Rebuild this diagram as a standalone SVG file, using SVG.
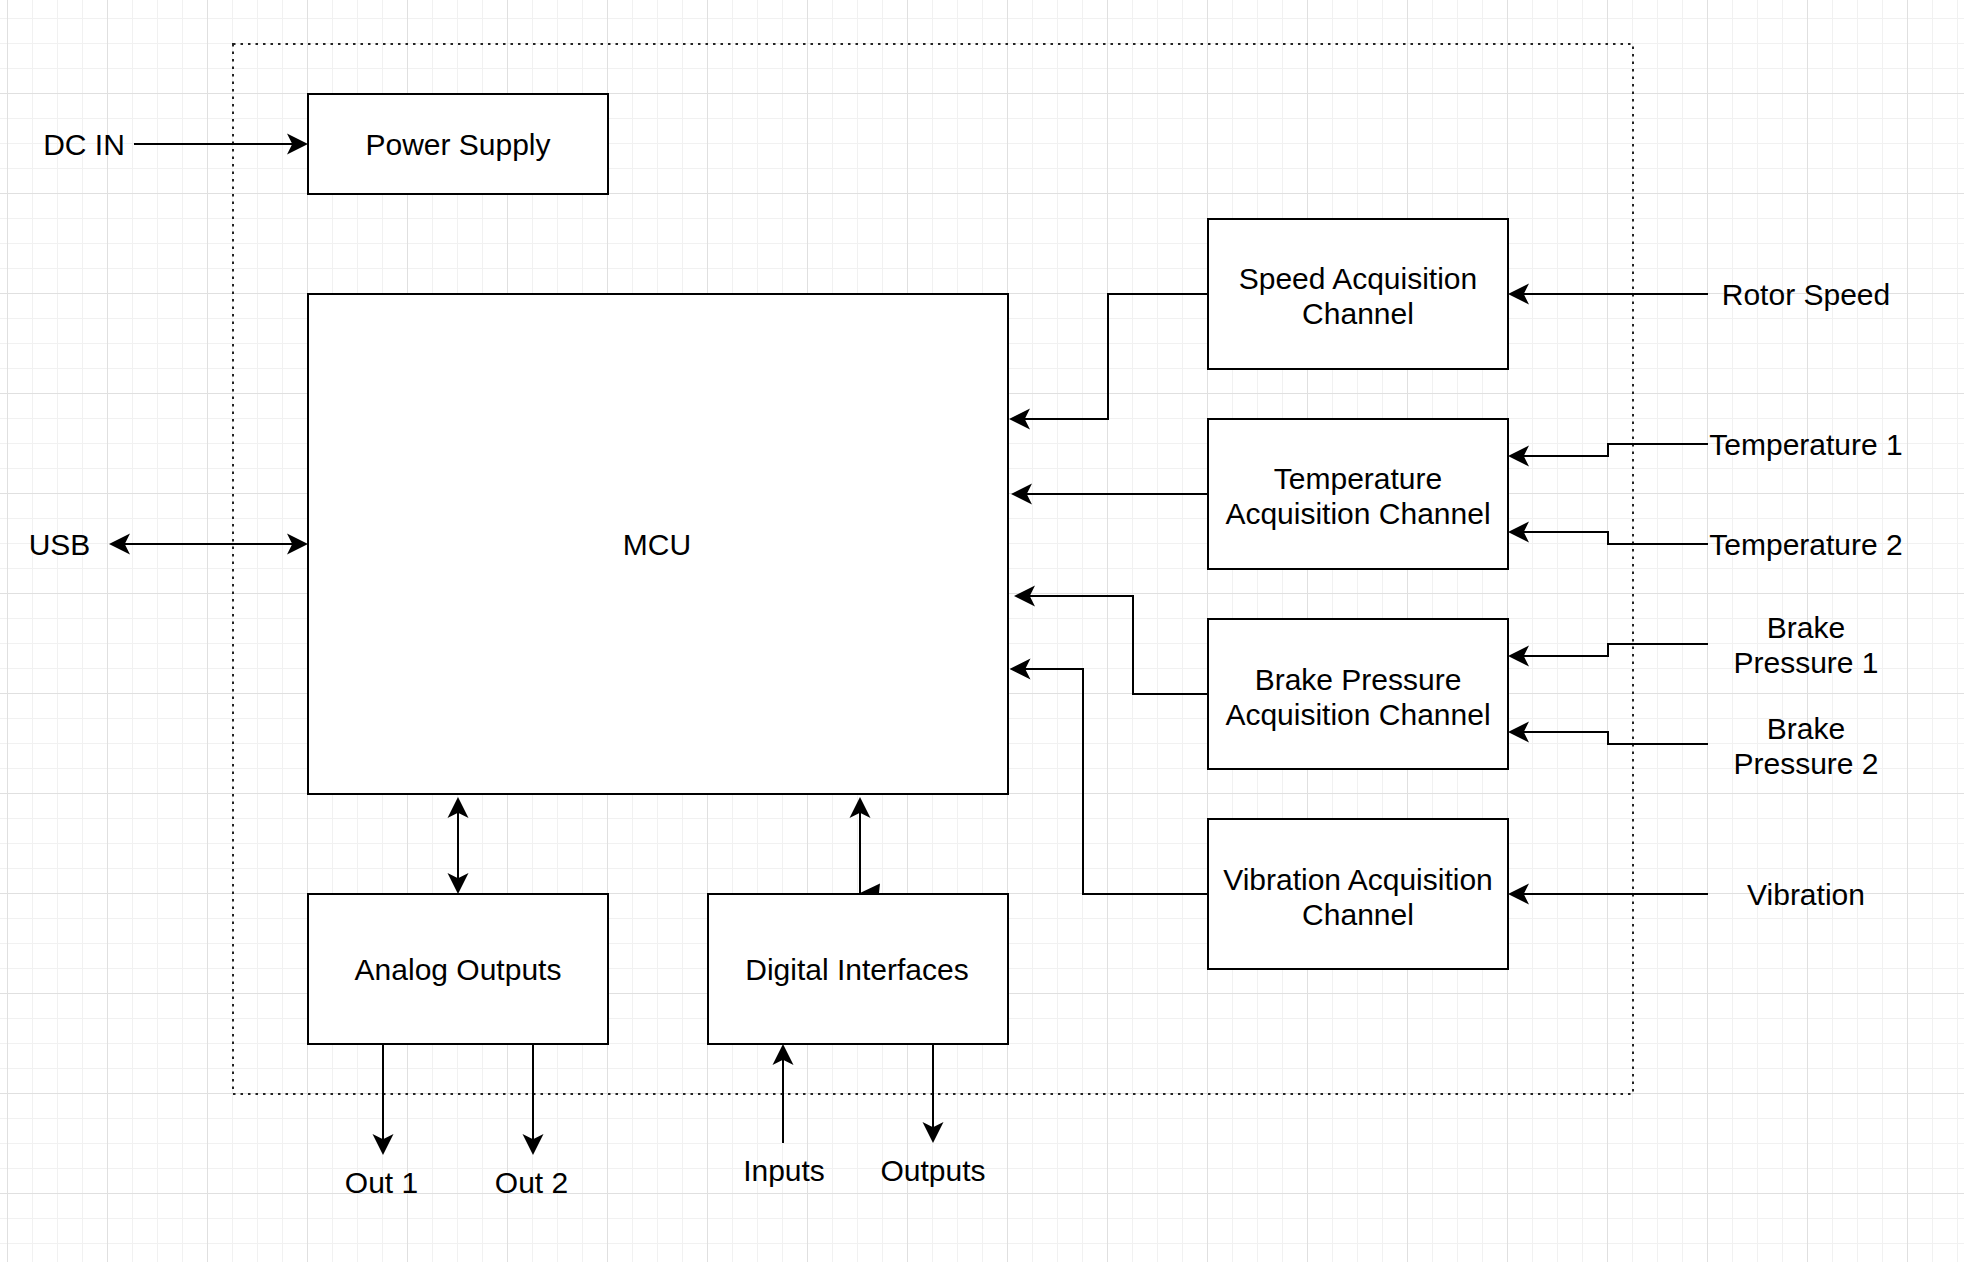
<svg xmlns="http://www.w3.org/2000/svg" width="1964" height="1262" viewBox="0 0 1964 1262">
  <defs>
    <pattern id="grid" patternUnits="userSpaceOnUse" x="7" y="-7" width="100" height="100">
      <path d="M25.5 0V100M50.5 0V100M75.5 0V100M0 25.5H100M0 50.5H100M0 75.5H100" stroke="#f1f1f1" stroke-width="1" fill="none"/>
      <path d="M0.5 0V100M0 0.5H100" stroke="#e0e0e0" stroke-width="1" fill="none"/>
    </pattern>
    <marker id="arrow" markerUnits="userSpaceOnUse" viewBox="0 -11 21 22" markerWidth="21" markerHeight="22" refX="9" refY="0" orient="auto-start-reverse">
      <path d="M21 0L0 -10.5L5.25 0L0 10.5Z" fill="#000"/>
    </marker>
    <style>
      .box { fill: #fff; stroke: #000; stroke-width: 2; }
      .edge { fill: none; stroke: #000; stroke-width: 2; }
      .arr { marker-end: url(#arrow); }
      .both { marker-start: url(#arrow); marker-end: url(#arrow); }
      text { font-family: "Liberation Sans", Arial, Helvetica, sans-serif; font-size: 30px; fill: #000; text-anchor: middle; }
    </style>
  </defs>

  <rect x="0" y="0" width="1964" height="1262" fill="#fff"/>
  <rect x="0" y="0" width="1964" height="1262" fill="url(#grid)"/>

  <g id="container">
    <rect x="233" y="44" width="1400" height="1050" fill="none" stroke="#222" stroke-width="2" stroke-dasharray="2.5 5"/>
  </g>

  <g id="connectors">
    <path class="edge arr" d="M134 144H296"/>
    <path class="edge both" d="M121 544H296"/>
    <path class="edge arr" d="M1208 294H1108V419H1021"/>
    <path class="edge arr" d="M1208 494H1023"/>
    <path class="edge arr" d="M1208 694H1133V596H1026"/>
    <path class="edge arr" d="M1208 894H1083V669H1021.5"/>
    <path class="edge arr" d="M1708 294H1520"/>
    <path class="edge arr" d="M1708 444H1608V456H1520"/>
    <path class="edge arr" d="M1708 544H1608V532H1520"/>
    <path class="edge arr" d="M1708 644H1608V656H1520"/>
    <path class="edge arr" d="M1708 744H1608V732H1520"/>
    <path class="edge arr" d="M1708 894H1520"/>
    <path class="edge both" d="M458 809V882"/>
    <path class="edge arr" d="M860 894V809"/>
    <polygon points="860,893 880,883.5 879,893" fill="#000"/>
    <path class="edge arr" d="M383 1044V1143"/>
    <path class="edge arr" d="M533 1044V1143"/>
    <path class="edge arr" d="M783 1143V1056"/>
    <path class="edge arr" d="M933 1044V1131"/>
  </g>

  <g id="power-supply">
    <rect class="box" x="308" y="94" width="300" height="100"/>
    <text x="458" y="154.5">Power Supply</text>
  </g>
  <g id="mcu">
    <rect class="box" x="308" y="294" width="700" height="500"/>
    <text x="657" y="555">MCU</text>
  </g>
  <g id="speed-channel">
    <rect class="box" x="1208" y="219" width="300" height="150"/>
    <text x="1358" y="288.5">Speed Acquisition</text>
    <text x="1358" y="323.5">Channel</text>
  </g>
  <g id="temperature-channel">
    <rect class="box" x="1208" y="419" width="300" height="150"/>
    <text x="1358" y="489">Temperature</text>
    <text x="1358" y="524">Acquisition Channel</text>
  </g>
  <g id="brake-channel">
    <rect class="box" x="1208" y="619" width="300" height="150"/>
    <text x="1358" y="689.5">Brake Pressure</text>
    <text x="1358" y="724.5">Acquisition Channel</text>
  </g>
  <g id="vibration-channel">
    <rect class="box" x="1208" y="819" width="300" height="150"/>
    <text x="1358" y="889.5">Vibration Acquisition</text>
    <text x="1358" y="924.5">Channel</text>
  </g>
  <g id="analog-outputs">
    <rect class="box" x="308" y="894" width="300" height="150"/>
    <text x="458" y="980">Analog Outputs</text>
  </g>
  <g id="digital-interfaces">
    <rect class="box" x="708" y="894" width="300" height="150"/>
    <text x="857" y="980">Digital Interfaces</text>
  </g>

  <g id="label-dc-in"><text x="84" y="154.5">DC IN</text></g>
  <g id="label-usb"><text x="59.5" y="554.5">USB</text></g>
  <g id="label-rotor-speed"><text x="1806" y="304.5">Rotor Speed</text></g>
  <g id="label-temperature-1"><text x="1806" y="454.5">Temperature 1</text></g>
  <g id="label-temperature-2"><text x="1806" y="554.5">Temperature 2</text></g>
  <g id="label-brake-pressure-1">
    <text x="1806" y="638">Brake</text>
    <text x="1806" y="673">Pressure 1</text>
  </g>
  <g id="label-brake-pressure-2">
    <text x="1806" y="738.5">Brake</text>
    <text x="1806" y="773.5">Pressure 2</text>
  </g>
  <g id="label-vibration"><text x="1806" y="904.5">Vibration</text></g>
  <g id="label-out-1"><text x="381.5" y="1192.5">Out 1</text></g>
  <g id="label-out-2"><text x="531.5" y="1192.5">Out 2</text></g>
  <g id="label-inputs"><text x="784" y="1180.5">Inputs</text></g>
  <g id="label-outputs"><text x="933" y="1180.5">Outputs</text></g>
</svg>
